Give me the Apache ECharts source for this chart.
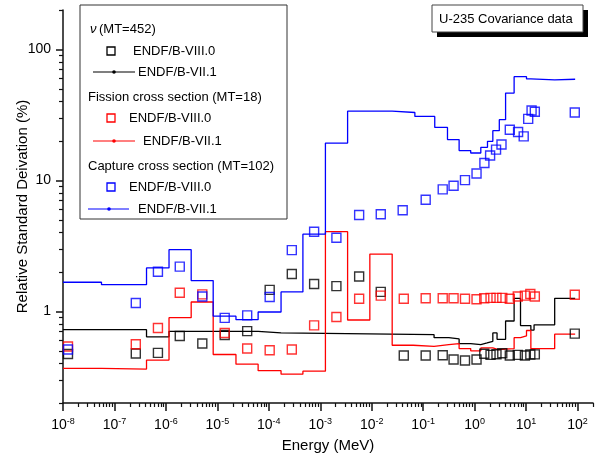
<!DOCTYPE html>
<html>
<head>
<meta charset="utf-8">
<script src="https://cdn.jsdelivr.net/npm/echarts@6/dist/echarts.min.js"></script>
<style>
  html, body { margin: 0; padding: 0; background: #fff; }
  #main { width: 600px; height: 458px; }
</style>
</head>
<body>
<div id="main"></div>
<script>
// energy in MeV, relative standard deviation in %

// nu (MT=452), ENDF/B-VII.1 : group edges + value in each group
const nuEdges = [1e-8, 4.2e-7, 1.15e-6, 6.2e-5, 1.73e-4, 0.163, 0.315, 0.5, 0.84, 1.32, 1.75, 2.26, 2.73, 4.0, 5.86, 7.8, 12.4, 14.3, 36, 90];
const nuVals  = [0.726, 0.64, 0.705, 0.686, 0.665, 0.63, 0.617, 0.568, 0.559, 0.575, 0.592, 0.686, 0.613, 0.845, 1.26, 0.78, 0.72, 0.79, 1.26];

// fission (MT=18), ENDF/B-VII.1
const fisEdges = [1e-8, 5.6e-8, 4.2e-7, 1.15e-6, 3.1e-6, 8.3e-6, 2.3e-5, 6.2e-5, 1.73e-4, 4.6e-4, 1.26e-3, 3.4e-3, 9.2e-3, 0.025, 0.064, 0.163, 0.315, 0.5, 0.84, 1.32, 2.26, 2.9, 5.86, 7.8, 10.2, 12.4, 36, 90];
const fisVals  = [0.367, 0.363, 0.425, 0.896, 1.18, 0.469, 0.396, 0.353, 0.332, 0.35, 4.06, 0.86, 2.74, 0.552, 0.542, 0.558, 0.568, 0.521, 0.50, 0.527, 0.512, 0.52, 0.63, 0.65, 0.715, 0.52, 0.67];

// capture (MT=102), ENDF/B-VII.1
const capEdges = [1e-8, 5.6e-8, 4.2e-7, 1.15e-6, 3.1e-6, 8.3e-6, 2.3e-5, 6.2e-5, 1.73e-4, 4.6e-4, 1.26e-3, 3.4e-3, 0.025, 0.069, 0.168, 0.297, 0.5, 0.84, 1.32, 1.78, 2.26, 3.02, 4.0, 5.86, 10.2, 12.4, 36, 90];
const capVals  = [1.67, 1.60, 2.15, 2.96, 1.72, 0.92, 0.865, 0.99, 1.41, 3.89, 19.3, 33.8, 33.0, 30.8, 25.4, 20.5, 16.9, 16.2, 17.9, 19.9, 24, 29.1, 46.4, 62, 59.5, 58.5, 59.2];

// ENDF/B-VIII.0 points
const ptE = [1.25e-8, 2.6e-7, 7.0e-7, 1.86e-6, 5.1e-6, 1.39e-5, 3.8e-5, 1.04e-4, 2.8e-4, 7.6e-4, 2.06e-3, 5.7e-3, 0.015, 0.042, 0.112, 0.24, 0.39, 0.65, 1.09, 1.54, 2.04, 2.66, 3.45, 4.83, 6.9, 9.5, 12.1, 14.8, 88.5];
const nuPts  = [0.473, 0.477, 0.483, 0.65, 0.569, 0.66, 0.707, 1.46, 1.93, 1.62, 1.56, 1.85, 1.41, 0.461, 0.461, 0.463, 0.43, 0.422, 0.43, 0.475, 0.466, 0.471, 0.48, 0.461, 0.466, 0.461, 0.469, 0.47, 0.677];
const fisPts = [0.54, 0.561, 0.748, 1.39, 1.35, 0.685, 0.521, 0.506, 0.512, 0.783, 0.906, 1.25, 1.32, 1.25, 1.26, 1.26, 1.26, 1.25, 1.24, 1.26, 1.27, 1.27, 1.27, 1.25, 1.30, 1.32, 1.36, 1.30, 1.34];
const capPtE = [1.25e-8, 2.6e-7, 7.0e-7, 1.86e-6, 5.1e-6, 1.39e-5, 3.8e-5, 1.04e-4, 2.8e-4, 7.6e-4, 2.06e-3, 5.7e-3, 0.015, 0.04, 0.112, 0.24, 0.39, 0.65, 1.09, 1.55, 2.0, 2.61, 3.33, 4.83, 7.0, 9.0, 11.0, 12.8, 14.8, 88.5];
const capPts = [0.512, 1.16, 2.01, 2.20, 1.30, 0.893, 0.933, 1.29, 2.94, 4.06, 3.65, 5.44, 5.52, 5.92, 7.13, 8.55, 9.12, 10.05, 11.3, 13.6, 15.5, 17.2, 18.8, 24.4, 23.4, 21.7, 29.5, 34.2, 33.4, 33.0];

// axis decades (labels are 10^n)
const xDecades = [-8, -7, -6, -5, -4, -3, -2, -1, 0, 1, 2];
const yDecades = [0, 1, 2];
const xRange = [1e-8, 200];
const yRange = [0.2, 200];

const FONT = '"Liberation Sans", Arial, sans-serif';
const AXIS_COLOR = '#111';

// edges + group values -> staircase points
function stairs(edges, vals) {
  const out = [];
  vals.forEach((v, i) => {
    out.push([edges[i], v]);
    out.push([edges[i + 1], v]);
  });
  return out;
}
function pairs(xs, ys) {
  return xs.map((x, i) => [x, ys[i]]);
}
// log positions of 2..9 x 10^n inside [lo, hi]
function minorLogs(lo, hi) {
  const out = [];
  for (let n = Math.floor(lo); n <= Math.ceil(hi); n++) {
    for (let k = 2; k <= 9; k++) {
      const v = n + Math.log10(k);
      if (v >= lo - 1e-9 && v <= hi + 1e-9) out.push(v);
    }
  }
  return out;
}

const xLo = Math.log10(xRange[0]), xHi = Math.log10(xRange[1]);
const yLo = Math.log10(yRange[0]), yHi = Math.log10(yRange[1]);

const chart = echarts.init(document.getElementById('main'));

const lineSeries = (name, data, color) => ({
  name: name,
  type: 'line',
  data: data,
  showSymbol: false,
  lineStyle: { color: color, width: 1.3 },
  itemStyle: { color: color },
  z: 3
});
const pointSeries = (name, data, color) => ({
  name: name,
  type: 'scatter',
  data: data,
  symbol: 'rect',
  symbolSize: 9,
  itemStyle: { color: 'rgba(255,255,255,0)', borderColor: color, borderWidth: 1.4 },
  z: 4
});

const tickAxis = (extra) => Object.assign({
  type: 'value',
  splitLine: { show: false },
  axisLine: { show: false, onZero: false },
  axisLabel: { show: false },
  axisTick: { show: false }
}, extra);

const option = {
  animation: false,
  backgroundColor: '#fff',
  textStyle: { fontFamily: FONT },
  grid: { left: 63, top: 10, width: 530, height: 393, containLabel: false, outerBoundsMode: 'none' },
  xAxis: [
    { type: 'log', min: xRange[0], max: xRange[1], show: false, position: 'bottom' },
    tickAxis({
      min: xLo, max: xHi, position: 'bottom',
      name: 'Energy (MeV)', nameLocation: 'middle', nameGap: 35,
      nameTextStyle: { fontSize: 15, color: '#000', fontFamily: FONT },
      axisLine: { show: true, onZero: false, lineStyle: { color: AXIS_COLOR, width: 1.5 } },
      axisTick: { show: true, customValues: xDecades, length: 8, lineStyle: { color: AXIS_COLOR, width: 1.5 } },
      axisLabel: {
        show: true, customValues: xDecades, margin: 14,
        formatter: v => '{b|10}{s|' + Math.round(v) + '}',
        rich: {
          b: { fontSize: 14, color: '#000', fontFamily: FONT },
          s: { fontSize: 9, color: '#000', fontFamily: FONT, padding: [0, 0, 8, 0] }
        }
      }
    }),
    tickAxis({
      min: xLo, max: xHi, position: 'bottom',
      axisTick: { show: true, customValues: minorLogs(xLo, xHi), length: 4, lineStyle: { color: AXIS_COLOR, width: 1.2 } }
    })
  ],
  yAxis: [
    { type: 'log', min: yRange[0], max: yRange[1], show: false, position: 'left' },
    tickAxis({
      min: yLo, max: yHi, position: 'left',
      name: 'Relative Standard Deivation (%)', nameLocation: 'middle', nameGap: 33,
      nameMoveOverlap: false,
      nameTextStyle: { fontSize: 15, color: '#000', fontFamily: FONT },
      axisLine: { show: true, onZero: false, lineStyle: { color: AXIS_COLOR, width: 1.5 } },
      axisTick: { show: true, customValues: yDecades, length: 7, lineStyle: { color: AXIS_COLOR, width: 1.5 } },
      axisLabel: {
        show: true, customValues: yDecades, margin: 12,
        fontSize: 14, color: '#000', fontFamily: FONT,
        formatter: v => String(Math.round(Math.pow(10, v)))
      }
    }),
    tickAxis({
      min: yLo, max: yHi, position: 'left',
      axisTick: { show: true, customValues: minorLogs(yLo, yHi), length: 4, lineStyle: { color: AXIS_COLOR, width: 1.2 } }
    })
  ],
  series: [
    lineSeries('nu ENDF/B-VII.1', stairs(nuEdges, nuVals), '#000000'),
    lineSeries('fission ENDF/B-VII.1', stairs(fisEdges, fisVals), '#ff0000'),
    lineSeries('capture ENDF/B-VII.1', stairs(capEdges, capVals), '#0000ff'),
    pointSeries('nu ENDF/B-VIII.0', pairs(ptE, nuPts), '#000000'),
    pointSeries('fission ENDF/B-VIII.0', pairs(ptE, fisPts), '#ff0000'),
    pointSeries('capture ENDF/B-VIII.0', pairs(capPtE, capPts), '#0000ff')
  ],
  graphic: [
    // legend box
    { type: 'rect', shape: { x: 80, y: 5, width: 207, height: 214 }, style: { fill: '#fff', stroke: '#333', lineWidth: 1 }, z: 10 },
    { type: 'text', x: 90, y: 29, style: { text: 'ν', font: 'italic 13px ' + FONT, fill: '#000', verticalAlign: 'middle' }, z: 11 },
    { type: 'text', x: 99, y: 29, style: { text: '(MT=452)', font: '13px ' + FONT, fill: '#000', verticalAlign: 'middle' }, z: 11 },
    { type: 'rect', shape: { x: 107, y: 47, width: 8, height: 8 }, style: { fill: 'none', stroke: '#000', lineWidth: 1.3 }, z: 11 },
    { type: 'text', x: 133, y: 51, style: { text: 'ENDF/B-VIII.0', font: '13px ' + FONT, fill: '#000', verticalAlign: 'middle' }, z: 11 },
    { type: 'line', shape: { x1: 93, y1: 72, x2: 135, y2: 72 }, style: { stroke: '#000', lineWidth: 1.2 }, z: 11 },
    { type: 'circle', shape: { cx: 114, cy: 72, r: 1.8 }, style: { fill: '#000' }, z: 11 },
    { type: 'text', x: 138, y: 72, style: { text: 'ENDF/B-VII.1', font: '13px ' + FONT, fill: '#000', verticalAlign: 'middle' }, z: 11 },
    { type: 'text', x: 88, y: 97, style: { text: 'Fission cross section (MT=18)', font: '13px ' + FONT, fill: '#000', verticalAlign: 'middle' }, z: 11 },
    { type: 'rect', shape: { x: 107, y: 114, width: 8, height: 8 }, style: { fill: 'none', stroke: '#ff0000', lineWidth: 1.3 }, z: 11 },
    { type: 'text', x: 129, y: 118, style: { text: 'ENDF/B-VIII.0', font: '13px ' + FONT, fill: '#000', verticalAlign: 'middle' }, z: 11 },
    { type: 'line', shape: { x1: 93, y1: 141, x2: 135, y2: 141 }, style: { stroke: '#ff0000', lineWidth: 1.2 }, z: 11 },
    { type: 'circle', shape: { cx: 114, cy: 141, r: 1.8 }, style: { fill: '#ff0000' }, z: 11 },
    { type: 'text', x: 143, y: 141, style: { text: 'ENDF/B-VII.1', font: '13px ' + FONT, fill: '#000', verticalAlign: 'middle' }, z: 11 },
    { type: 'text', x: 88, y: 166, style: { text: 'Capture cross section (MT=102)', font: '13px ' + FONT, fill: '#000', verticalAlign: 'middle' }, z: 11 },
    { type: 'rect', shape: { x: 107, y: 183, width: 8, height: 8 }, style: { fill: 'none', stroke: '#0000ff', lineWidth: 1.3 }, z: 11 },
    { type: 'text', x: 129, y: 187, style: { text: 'ENDF/B-VIII.0', font: '13px ' + FONT, fill: '#000', verticalAlign: 'middle' }, z: 11 },
    { type: 'line', shape: { x1: 88, y1: 209, x2: 129, y2: 209 }, style: { stroke: '#0000ff', lineWidth: 1.2 }, z: 11 },
    { type: 'circle', shape: { cx: 109, cy: 209, r: 1.8 }, style: { fill: '#0000ff' }, z: 11 },
    { type: 'text', x: 138, y: 209, style: { text: 'ENDF/B-VII.1', font: '13px ' + FONT, fill: '#000', verticalAlign: 'middle' }, z: 11 },

    // title box with drop shadow
    { type: 'rect', shape: { x: 437, y: 10, width: 151, height: 27 }, style: { fill: '#000' }, z: 10 },
    { type: 'rect', shape: { x: 432, y: 5, width: 151, height: 27 }, style: { fill: '#fff', stroke: '#444', lineWidth: 1 }, z: 11 },
    { type: 'text', x: 439, y: 19, style: { text: 'U-235 Covariance data', font: '13px ' + FONT, fill: '#000', verticalAlign: 'middle' }, z: 12 }
  ]
};

chart.setOption(option);
</script>
</body>
</html>
